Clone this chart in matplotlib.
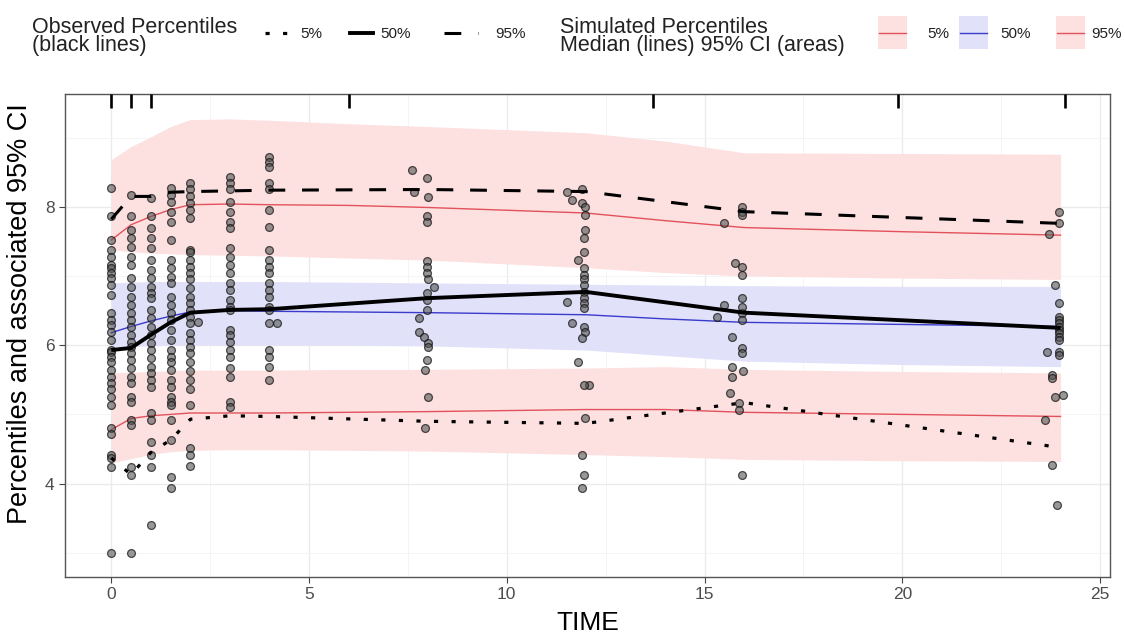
import matplotlib
matplotlib.use("Agg")
import matplotlib.pyplot as plt
from matplotlib.lines import Line2D
from matplotlib.patches import Rectangle
from matplotlib.ticker import MultipleLocator

plt.rcParams['font.family'] = ['Liberation Sans', 'DejaVu Sans']

# ---------------- data ----------------
# simulated percentiles (median lines + 95% CI areas)
sim_time = [0, 0.5, 1, 1.5, 2, 3, 4, 6, 8, 12, 14, 16, 20, 24]
sim_p95_lo = [7.38, 7.35, 7.33, 7.32, 7.31, 7.30, 7.29, 7.26, 7.23, 7.12, 7.05, 7.00, 6.97, 6.95]
sim_p95_md = [7.52, 7.74, 7.86, 7.96, 8.03, 8.04, 8.03, 8.02, 7.99, 7.91, 7.80, 7.70, 7.64, 7.59]
sim_p95_hi = [8.68, 8.87, 9.01, 9.16, 9.26, 9.27, 9.25, 9.20, 9.16, 9.07, 8.95, 8.78, 8.77, 8.76]
sim_p50_lo = [5.97, 5.98, 5.99, 6.00, 6.00, 6.00, 6.00, 6.00, 5.99, 5.93, 5.85, 5.77, 5.72, 5.69]
sim_p50_md = [6.18, 6.27, 6.35, 6.42, 6.48, 6.50, 6.49, 6.48, 6.47, 6.44, 6.38, 6.33, 6.30, 6.27]
sim_p50_hi = [6.90, 6.91, 6.92, 6.92, 6.92, 6.92, 6.92, 6.91, 6.90, 6.88, 6.87, 6.86, 6.85, 6.85]
sim_p05_lo = [4.30, 4.36, 4.42, 4.46, 4.48, 4.49, 4.49, 4.48, 4.47, 4.42, 4.39, 4.35, 4.33, 4.32]
sim_p05_md = [4.78, 4.94, 4.98, 5.00, 5.02, 5.02, 5.02, 5.03, 5.04, 5.07, 5.07, 5.03, 5.00, 4.97]
sim_p05_hi = [5.60, 5.61, 5.62, 5.63, 5.64, 5.64, 5.64, 5.65, 5.65, 5.67, 5.69, 5.65, 5.62, 5.60]

# observed percentiles
obs_time = [0, 0.5, 1, 1.5, 2, 3, 4, 8, 12, 16, 24]
obs_p05 = [4.37, 4.13, 4.45, 4.63, 4.93, 4.98, 4.97, 4.90, 4.87, 5.17, 4.52]
obs_p50 = [5.93, 5.96, 6.15, 6.33, 6.47, 6.51, 6.52, 6.68, 6.77, 6.47, 6.25]
obs_p95 = [7.82, 8.15, 8.15, 8.21, 8.22, 8.23, 8.24, 8.25, 8.22, 7.93, 7.76]

# observations at nominal times
pts_t0 = [8.27, 7.86, 7.52, 7.38, 7.28, 7.16, 7.12, 7.05, 6.97, 6.87, 6.73, 6.47, 6.37, 6.29,
          6.19, 6.08, 5.93, 5.90, 5.83, 5.75, 5.64, 5.54, 5.46, 5.36, 5.25, 5.14, 4.81, 4.71,
          4.42, 4.37, 4.24, 3.00]
pts_t05 = [8.17, 7.86, 7.67, 7.55, 7.42, 7.28, 7.16, 6.97, 6.84, 6.70, 6.58, 6.47, 6.37, 6.27,
           6.15, 6.05, 5.98, 5.89, 5.79, 5.67, 5.54, 5.46, 5.25, 5.18, 4.92, 4.85, 4.24, 4.13, 3.00]
pts_t1 = [8.13, 7.86, 7.70, 7.55, 7.41, 7.23, 7.09, 6.97, 6.84, 6.76, 6.68, 6.51, 6.40, 6.27,
          6.15, 6.03, 5.93, 5.82, 5.69, 5.60, 5.50, 5.40, 5.02, 4.92, 4.60, 4.42, 4.24, 3.40]
pts_t15 = [8.27, 8.17, 8.07, 7.93, 7.78, 7.52, 7.23, 7.12, 6.99, 6.90, 6.70, 6.58, 6.47, 6.37,
           6.22, 6.08, 5.93, 5.83, 5.75, 5.64, 5.50, 5.40, 5.25, 5.18, 5.14, 4.92, 4.63, 4.10, 3.94]
pts_t2 = [8.35, 8.25, 8.15, 8.06, 7.96, 7.84, 7.38, 7.34, 7.23, 7.13, 7.05, 6.95, 6.83, 6.70,
          6.61, 6.51, 6.41, 6.32, 6.18, 6.08, 5.98, 5.89, 5.75, 5.62, 5.50, 5.36, 5.14, 4.52,
          4.42, 4.26]
pts_t3 = [8.43, 8.35, 8.25, 8.07, 7.93, 7.78, 7.70, 7.41, 7.28, 7.16, 7.05, 6.90, 6.80, 6.66,
          6.55, 6.51, 6.22, 6.15, 6.05, 5.93, 5.83, 5.67, 5.54, 5.18, 5.10]
pts_t4 = [8.72, 8.65, 8.58, 8.35, 8.25, 7.96, 7.71, 7.38, 7.23, 7.13, 7.05, 6.90, 6.80, 6.70,
          6.55, 6.51, 6.32, 5.93, 5.83, 5.69, 5.50]
nominal_times = [0, 0.5, 1, 1.5, 2, 3, 4]

# observations with recorded (non-nominal) times
late_time = [2.2, 4.2,
             7.60, 7.98, 7.66, 8.02, 7.98, 7.98, 7.98, 7.98, 7.98, 8.02, 8.15, 7.98, 7.98, 7.98,
             7.77, 7.77, 7.90, 8.02, 8.02, 7.98, 7.94, 8.02, 7.92,
             11.52, 11.65, 11.90, 11.90, 11.98, 11.98, 11.98, 11.94, 11.94, 11.81, 11.94, 11.94,
             11.94, 11.94, 11.94, 11.94, 11.52, 11.94, 11.94, 11.65, 11.94, 11.98, 11.90, 11.81,
             12.07, 11.95, 11.98, 11.90, 11.94, 11.90,
             15.94, 15.94, 15.48, 15.94, 15.77, 15.94, 15.94, 15.94, 15.48, 15.94, 15.31, 15.69,
             15.94, 15.94, 15.69, 15.97, 15.69, 15.65, 15.86, 15.86, 15.94, 15.94, 15.94,
             23.95, 23.95, 23.70, 23.86, 23.95, 23.95, 23.95, 23.95, 23.95, 23.95, 23.95, 23.95,
             23.95, 23.65, 23.95, 23.95, 23.78, 23.78, 23.86, 24.07, 23.61, 23.78, 23.90]
late_value = [6.34, 6.32,
              8.53, 8.42, 8.22, 8.14, 7.86, 7.78, 7.21, 7.13, 7.05, 6.95, 6.84, 6.76, 6.66, 6.51,
              6.40, 6.19, 6.12, 6.03, 5.98, 5.79, 5.64, 5.25, 4.81,
              8.22, 8.10, 8.25, 8.06, 8.00, 7.88, 7.67, 7.55, 7.34, 7.23, 7.12, 7.02,
              6.95, 6.87, 6.77, 6.68, 6.63, 6.61, 6.54, 6.32, 6.27, 6.19, 6.11, 5.75,
              5.43, 5.43, 4.95, 4.42, 4.13, 3.94,
              8.00, 7.93, 7.77, 7.88, 7.19, 7.13, 7.02, 6.68, 6.58, 6.47, 6.41, 6.12,
              5.96, 5.89, 5.69, 5.62, 5.54, 5.31, 5.17, 5.07, 4.13, 6.37, 6.55,
              7.93, 7.77, 7.60, 6.87, 6.61, 6.41, 6.37, 6.32, 6.27, 6.22, 6.18, 6.12,
              6.08, 5.90, 5.90, 5.86, 5.57, 5.53, 5.25, 5.28, 4.92, 4.27, 3.69]

# rug of bin positions at the top of the panel
rug_time = [0, 0.5, 1, 6, 13.7, 19.9, 24.1]

x_ticks = [0, 5, 10, 15, 20, 25]
y_ticks = [4, 6, 8]

# ---------------- figure ----------------
W, H = 1125, 641
fig = plt.figure(figsize=(W / 100, H / 100), dpi=100)
ax = fig.add_axes([65 / W, 1 - 577 / H, (1110 - 65) / W, (577 - 94) / H])

PINK = '#FDE0E0'
BLUE = '#E1E1FA'
RED = '#E2525C'
NAVY = '#3A3ACB'

ax.fill_between(sim_time, sim_p95_lo, sim_p95_hi, color=PINK, lw=0, zorder=1)
ax.fill_between(sim_time, sim_p50_lo, sim_p50_hi, color=BLUE, lw=0, zorder=1)
ax.fill_between(sim_time, sim_p05_lo, sim_p05_hi, color=PINK, lw=0, zorder=1)
ax.plot(sim_time, sim_p95_md, color=RED, lw=1.0, zorder=2)
ax.plot(sim_time, sim_p50_md, color=NAVY, lw=1.0, zorder=2)
ax.plot(sim_time, sim_p05_md, color=RED, lw=1.0, zorder=2)

# observations
px_t, px_v = [], []
for t, vals in zip(nominal_times, [pts_t0, pts_t05, pts_t1, pts_t15, pts_t2, pts_t3, pts_t4]):
    px_t += [t] * len(vals)
    px_v += vals
px_t += late_time
px_v += late_value
ax.scatter(px_t, px_v, s=32, facecolor=(0.33, 0.33, 0.33, 0.6),
           edgecolor=(0.05, 0.05, 0.05, 0.7), linewidth=0.9, zorder=3)

ax.plot(obs_time, obs_p05, color='black', lw=2.3, linestyle=(0, (1.3, 4.2)), zorder=4)
ax.plot(obs_time, obs_p50, color='black', lw=2.8, zorder=4, solid_capstyle='butt')
ax.plot(obs_time, obs_p95, color='black', lw=2.2, linestyle=(0, (5.5, 5.5)), zorder=4)

ax.vlines(rug_time, 0.97, 1.0, transform=ax.get_xaxis_transform(), color='black', lw=1.9, zorder=5)

ax.set_xlim(-1.17, 25.25)
ax.set_ylim(2.65, 9.63)
ax.set_xticks(x_ticks)
ax.set_yticks(y_ticks)
ax.xaxis.set_minor_locator(MultipleLocator(2.5))
ax.yaxis.set_minor_locator(MultipleLocator(1))
ax.grid(which='major', color='#EBEBEB', lw=1.0, zorder=0)
ax.grid(which='minor', color='#F3F3F3', lw=0.6, zorder=0)
ax.set_axisbelow(True)
ax.tick_params(which='major', length=4, width=0.8, color='#444444', labelcolor='#4D4D4D', labelsize=12.5)
ax.tick_params(which='minor', length=0)
for s in ax.spines.values():
    s.set_color('#555555')
    s.set_linewidth(1.0)

ax.set_xlabel('TIME', fontsize=19, labelpad=6)
ax.set_ylabel('Percentiles and associated 95% CI', fontsize=19.5)
ax.yaxis.set_label_coords(-0.031, 0.545)

# ---------------- legends (manual layout, figure pixels) ----------------
def fx(p):
    return p / W

def fy(p):
    return 1 - p / H

TFS = 15.5
LFS = 11
fig.text(fx(32), fy(51), 'Observed Percentiles\n(black lines)', fontsize=TFS, color='#222222',
         va='baseline', linespacing=0.84)
fig.text(fx(560), fy(51), 'Simulated Percentiles\nMedian (lines) 95% CI (areas)', fontsize=TFS,
         color='#222222', va='baseline', linespacing=0.84)

key_y = 33
obs_keys = [((265, 292), dict(lw=2.3, linestyle=(0, (1.3, 4.2))), 300, '5%'),
            ((350, 373), dict(lw=2.8), 380, '50%'),
            ((444, 478), dict(lw=2.2, linestyle=(0, (5.5, 5.5))), 495, '95%')]
for (x0, x1), style, tx, lab in obs_keys:
    fig.add_artist(Line2D([fx(x0), fx(x1)], [fy(key_y), fy(key_y)], color='black',
                          transform=fig.transFigure, **style))
    fig.text(fx(tx), fy(key_y + 5), lab, fontsize=LFS, color='#222222', va='baseline')

sim_keys = [(878, PINK, RED, 927, '5%'), (959, BLUE, NAVY, 1000, '50%'), (1056, PINK, RED, 1091, '95%')]
for bx, fc, lc, tx, lab in sim_keys:
    fig.add_artist(Rectangle((fx(bx), fy(49)), 29 / W, 33 / H, transform=fig.transFigure,
                             facecolor=fc, edgecolor='none'))
    fig.add_artist(Line2D([fx(bx + 1), fx(bx + 28)], [fy(key_y), fy(key_y)], color=lc, lw=1.0,
                          transform=fig.transFigure))
    fig.text(fx(tx), fy(key_y + 5), lab, fontsize=LFS, color='#222222', va='baseline')

fig.savefig('out.png', dpi=100)
